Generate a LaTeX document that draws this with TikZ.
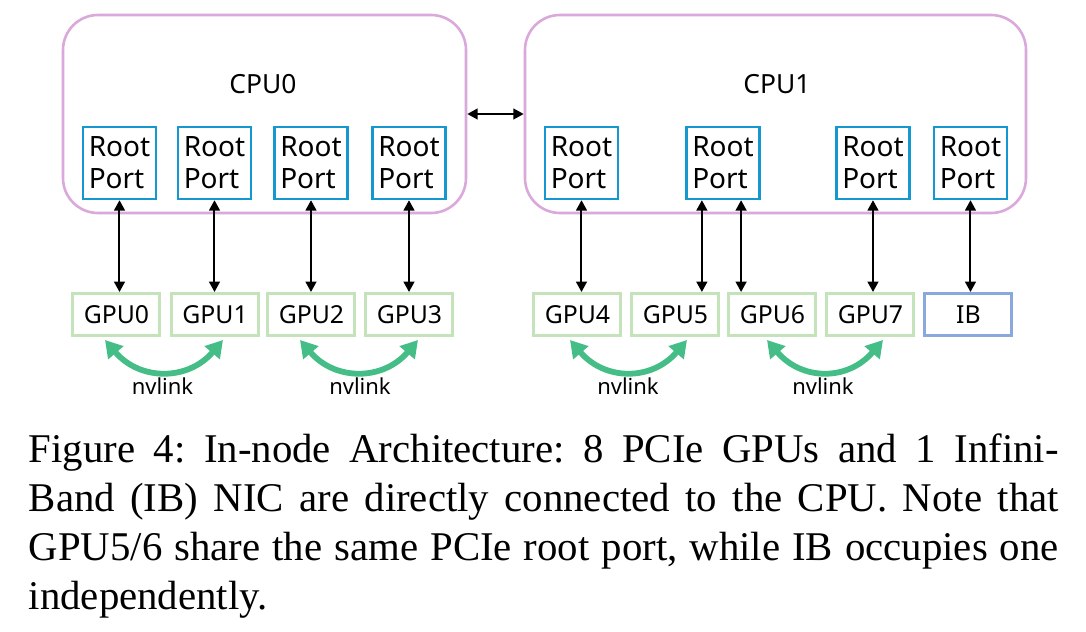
\documentclass[tikz,border=0pt]{standalone}
\usepackage{fontspec}
\setmainfont{Liberation Serif}
\newfontfamily\diagfont{Noto Sans}
\usetikzlibrary{arrows.meta,calc}

\definecolor{cpuline}{RGB}{218,168,218}
\definecolor{portline}{RGB}{20,152,207}
\definecolor{gpuline}{RGB}{196,227,186}
\definecolor{ibline}{RGB}{139,168,222}
\definecolor{nvgreen}{RGB}{69,189,134}

\tikzset{
  cpubox/.style={draw=cpuline, line width=0.65pt, rounded corners=8.75pt, inner sep=0, minimum height=49.5pt},
  cpulabel/.style={font=\diagfont\fontsize{6.6}{8}\selectfont, inner sep=0},
  rootport/.style={draw=portline, line width=0.6pt, minimum width=18.25pt, minimum height=18pt, inner sep=0, align=left, font=\diagfont\fontsize{7}{8}\selectfont},
  gpubox/.style={draw=gpuline, line width=0.75pt, minimum width=21.75pt, minimum height=10.5pt, inner sep=0, font=\diagfont\fontsize{6.2}{7}\selectfont},
  nicbox/.style={gpubox, draw=ibline},
  pcie/.style={line width=0.5pt, {Triangle[length=2.6pt,width=2.7pt]}-{Triangle[length=2.6pt,width=2.7pt]}},
  nvlink/.style={draw=nvgreen, line width=1.45pt, {Triangle[length=4.2pt,width=4.8pt]}-{Triangle[length=4.2pt,width=4.8pt]}},
  nvlabel/.style={font=\diagfont\fontsize{5.5}{6}\selectfont, inner sep=0, anchor=base}
}

\begin{document}
\begin{tikzpicture}[x=0.25pt,y=0.25pt,yscale=-1,xscale=1]
	\useasboundingbox (0,0) rectangle (1086,632);

	% CPU
	\node[cpubox, minimum width=100.75pt] (cpu0) at (264.5,114) {};
	\node[cpulabel] (cpu0label) at (263,84) {CPU0};
	\node[cpubox, minimum width=125.25pt] (cpu1) at (775.5,114) {};
	\node[cpulabel] (cpu1label) at (777,84) {CPU1};

	% Root Port
	\node[rootport] (rp0) at (119.5,163) {Root\\Port};
	\node[rootport] (rp1) at (214.5,163) {Root\\Port};
	\node[rootport] (rp2) at (311,163) {Root\\Port};
	\node[rootport] (rp3) at (409,163) {Root\\Port};
	\node[rootport] (rp4) at (581.5,163) {Root\\Port};
	\node[rootport] (rp5) at (723,163) {Root\\Port};
	\node[rootport] (rp6) at (873,163) {Root\\Port};
	\node[rootport] (rp7) at (970.5,163) {Root\\Port};

	% GPU
	\node[gpubox] (gpu0) at (116.5,314.5) {GPU0};
	\node[gpubox] (gpu1) at (215,314.5) {GPU1};
	\node[gpubox] (gpu2) at (311.5,314.5) {GPU2};
	\node[gpubox] (gpu3) at (409.5,314.5) {GPU3};
	\node[gpubox] (gpu4) at (577.5,314.5) {GPU4};
	\node[gpubox] (gpu5) at (675.5,314.5) {GPU5};
	\node[gpubox] (gpu6) at (772.5,314.5) {GPU6};
	\node[gpubox] (gpu7) at (870.5,314.5) {GPU7};
	\node[nicbox] (ib) at (968.5,314.5) {IB};

	% Connection
	\draw[pcie] (cpu0) -- (cpu1);
	\draw[pcie] (rp0.south) -- (rp0.south |- gpu0.north);
	\draw[pcie] (rp1.south) -- (rp1.south |- gpu1.north);
	\draw[pcie] (rp2.south) -- (rp2.south |- gpu2.north);
	\draw[pcie] (rp3.south) -- (rp3.south |- gpu3.north);
	\draw[pcie] (rp4.south) -- (rp4.south |- gpu4.north);
	\coordinate (rp5a) at ($(rp5.south west)!0.22!(rp5.south east)$);
	\coordinate (rp5b) at ($(rp5.south west)!0.74!(rp5.south east)$);
	\draw[pcie] (rp5a) -- (rp5a |- gpu5.north);
	\draw[pcie] (rp5b) -- (rp5b |- gpu6.north);
	\draw[pcie] (rp6.south) -- (rp6.south |- gpu7.north);
	\draw[pcie] (rp7.south) -- (rp7.south |- ib.north);

	% nvlink
	\draw[nvlink] ($(gpu0.south)+(-11.5,3)$) .. controls +(35,41) and +(-35,41) .. ($(gpu1.south)+(8,3)$);
	\draw[nvlink] ($(gpu2.south)+(-11.5,3)$) .. controls +(35,41) and +(-35,41) .. ($(gpu3.south)+(8.5,3)$);
	\draw[nvlink] ($(gpu4.south)+(-7.5,3)$) .. controls +(35,41) and +(-35,41) .. ($(gpu5.south)+(11.5,3)$);
	\draw[nvlink] ($(gpu6.south)+(-5.5,3)$) .. controls +(35,41) and +(-35,41) .. ($(gpu7.south)+(12.5,3)$);
	\node[nvlabel] (nv01) at (162.5,395) {nvlink};
	\node[nvlabel] (nv23) at (360,395) {nvlink};
	\node[nvlabel] (nv45) at (628,395) {nvlink};
	\node[nvlabel] (nv67) at (823,395) {nvlink};

	% Caption
	\node[anchor=north west, inner sep=0, text width=257.5pt, align=justify, font=\fontsize{10.2}{12.25}\selectfont\frenchspacing] (caption) at (28,433) {Figure 4: In-node Architecture: 8 PCIe GPUs and 1 Infini-\linebreak Band (IB) NIC are directly connected to the CPU. Note that\linebreak GPU5/6 share the same PCIe root port, while IB occupies one\linebreak independently.};

\end{tikzpicture}
\end{document}
